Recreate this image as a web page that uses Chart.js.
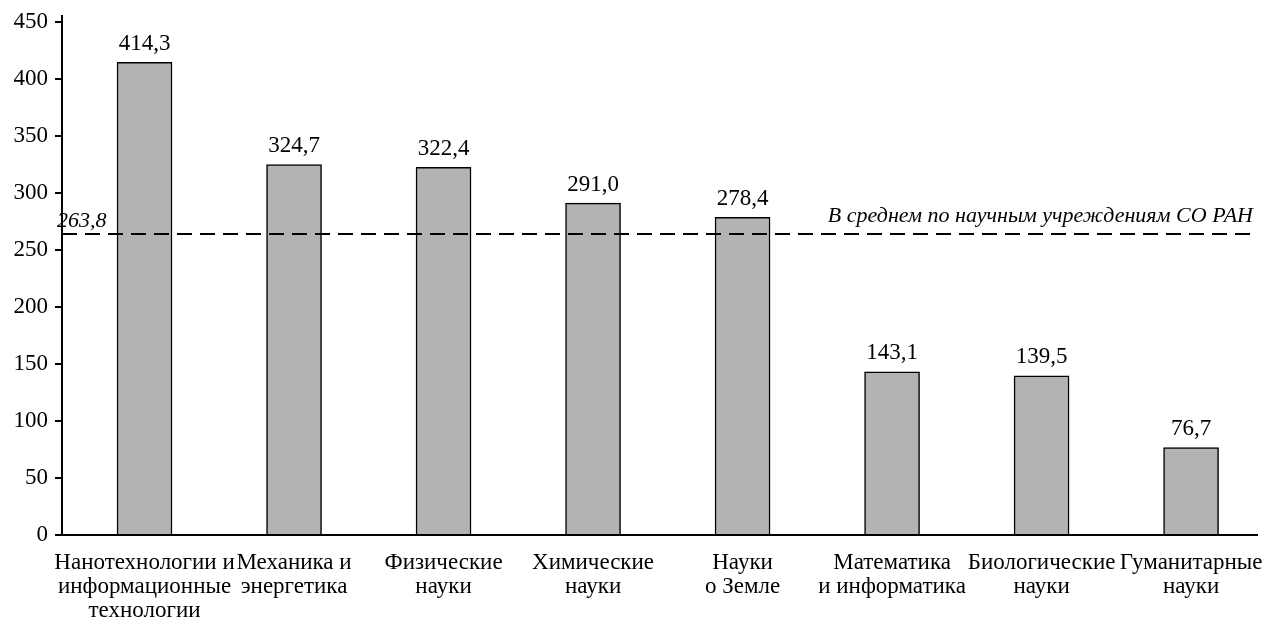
<!DOCTYPE html>
<html>
<head>
<meta charset="utf-8">
<script src="https://cdn.jsdelivr.net/npm/chart.js@4"></script>
<style>
    html, body { margin: 0; padding: 0; background: #fff; }
    #wrap { width: 1263px; height: 619px; }
</style>
</head>
<body>
<div id="wrap"><canvas id="barChart"></canvas></div>
<script>
const categories = [
    ["Нанотехнологии и", "информационные", "технологии"],
    ["Механика и", "энергетика"],
    ["Физические", "науки"],
    ["Химические", "науки"],
    ["Науки", "о Земле"],
    ["Математика", "и информатика"],
    ["Биологические", "науки"],
    ["Гуманитарные", "науки"]
];
const values = [414.3, 324.7, 322.4, 291.0, 278.4, 143.1, 139.5, 76.7];
const yTicks = [0, 50, 100, 150, 200, 250, 300, 350, 400, 450];
const averageValue = 263.8;
const averageLabel = "В среднем по научным учреждениям СО РАН";

const font = "'Liberation Serif', 'Times New Roman', serif";

function fmt(v) {
    return v.toFixed(1).replace(".", ",");
}

// value labels above the bars + the dashed average line
const annotations = {
    id: "annotations",
    afterDatasetsDraw(chart) {
        const ctx = chart.ctx;
        const area = chart.chartArea;
        const y = chart.scales.y;
        ctx.save();

        ctx.fillStyle = "#000";
        ctx.font = "23px " + font;
        ctx.textAlign = "center";
        ctx.textBaseline = "bottom";
        chart.getDatasetMeta(0).data.forEach(function (bar, i) {
            ctx.fillText(fmt(values[i]), bar.x, bar.y - 7);
        });

        const ly = y.getPixelForValue(averageValue);
        ctx.strokeStyle = "#000";
        ctx.lineWidth = 2;
        ctx.setLineDash([15, 8]);
        ctx.beginPath();
        ctx.moveTo(area.left, ly);
        ctx.lineTo(area.right, ly);
        ctx.stroke();
        ctx.setLineDash([]);

        ctx.font = "italic 22px " + font;
        ctx.textBaseline = "alphabetic";
        ctx.textAlign = "left";
        ctx.fillText(fmt(averageValue), 57, ly - 7);
        ctx.textAlign = "right";
        ctx.fillText(averageLabel, 1253, ly - 12);
        ctx.restore();
    }
};

new Chart(document.getElementById("barChart"), {
    type: "bar",
    data: {
        datasets: [
            {
                data: values.map(function (v, i) { return { x: i, y: v }; }),
                backgroundColor: "#b3b3b3",
                borderColor: "#000",
                borderWidth: 1.5,
                barThickness: 55
            }
        ]
    },
    plugins: [annotations],
    options: {
        responsive: true,
        maintainAspectRatio: false,
        animation: false,
        layout: {
            padding: { top: 16, right: 6, left: 0, bottom: 0 }
        },
        scales: {
            x: {
                type: "linear",
                offset: false,
                min: -0.552,
                max: 7.441,
                afterBuildTicks: function (scale) {
                    scale.ticks = categories.map(function (c, i) { return { value: i }; });
                },
                afterFit: function (scale) {
                    scale.height = 84;
                    scale.paddingLeft = 0;
                    scale.paddingRight = 0;
                },
                grid: { display: false, offset: false },
                border: { display: true, color: "#000", width: 2 },
                ticks: {
                    autoSkip: false,
                    maxRotation: 0,
                    padding: 8,
                    color: "#000",
                    font: { family: font, size: 23, lineHeight: 1.04 },
                    callback: function (value) {
                        return categories[value];
                    }
                }
            },
            y: {
                min: 0,
                max: 455,
                afterBuildTicks: function (scale) {
                    scale.ticks = yTicks.map(function (v) { return { value: v }; });
                },
                afterFit: function (scale) {
                    scale.width = 62;
                    scale.paddingTop = 0;
                    scale.paddingBottom = 0;
                },
                grid: {
                    drawOnChartArea: false,
                    drawTicks: true,
                    tickLength: 7,
                    color: "#000",
                    lineWidth: 2
                },
                border: { display: true, color: "#000", width: 2 },
                ticks: {
                    padding: 7,
                    color: "#000",
                    font: { family: font, size: 23 }
                }
            }
        },
        plugins: {
            legend: { display: false },
            tooltip: { enabled: false }
        }
    }
});
</script>
</body>
</html>
